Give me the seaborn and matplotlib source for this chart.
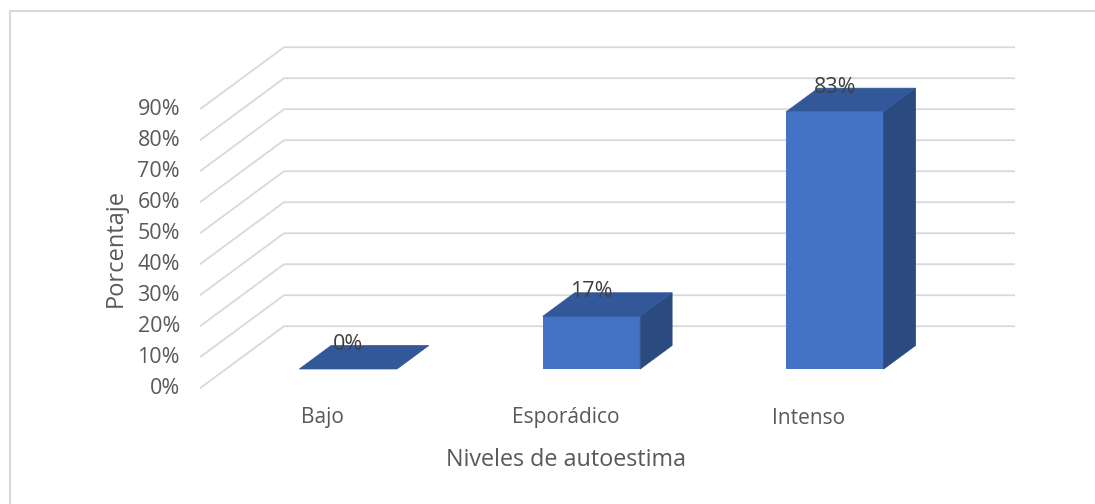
import matplotlib
matplotlib.use("Agg")
import matplotlib.pyplot as plt
from matplotlib.patches import Polygon
from matplotlib.lines import Line2D
import seaborn as sns
import pandas as pd

categories = ["Bajo", "Esporádico", "Intenso"]
values = [0, 17, 83]
value_labels = ["0%", "17%", "83%"]
tick_values = [0, 10, 20, 30, 40, 50, 60, 70, 80, 90]
tick_labels = [f"{t}%" for t in tick_values]
x_title = "Niveles de autoestima"
y_title = "Porcentaje"

sns.set_theme(style="white")
plt.rcParams["font.family"] = ["Open Sans", "DejaVu Sans"]

TXT = "#595959"
GRID = "#D9D9D9"
FRONT = "#4472C4"
TOP = "#325899"
SIDE = "#2B4A80"

W, H = 1095, 504
fig = plt.figure(figsize=(W / 100, H / 100), dpi=100)
ax = fig.add_axes([0, 0, 1, 1])

df = pd.DataFrame({"cat": categories, "val": values})
sns.barplot(data=df, x="cat", y="val", ax=ax, width=0.4, color=FRONT,
            saturation=1, zorder=3, linewidth=0)

# pixel mapping: px = 348 + 243.5*i ; py(top) = 369 - 3.1*v
sx, sy = 243.5, 3.1
ax.set_xlim(-348 / sx, (W - 348) / sx)
ax.set_ylim((369 - H) / sy, 369 / sy)
ax.axis("off")

# oblique depth (full floor depth) in data units
full_dx, full_dy = 84 / sx, 62 / sy
f_front, f_back = 0.31, 0.69
bar_dx = (f_back - f_front) * full_dx
bar_dy = (f_back - f_front) * full_dy

x_front_left = (200 - 348) / sx
x_back_right = (1015 - 348) / sx

for t, lab in zip(tick_values, tick_labels):
    yf = t - f_front * full_dy
    yb = t + f_back * full_dy
    ax.plot([x_front_left, x_front_left + full_dx, x_back_right],
            [yf, yb, yb], color=GRID, lw=1.3, zorder=1, solid_capstyle="butt")
    ax.text(x_front_left - 20 / sx, yf, lab, ha="right", va="center",
            fontsize=15.5, color=TXT)

for p, lab in zip(ax.patches, value_labels):
    x0 = p.get_x()
    w = p.get_width()
    h = p.get_height()
    x1 = x0 + w
    top = Polygon([(x0, h), (x1, h), (x1 + bar_dx, h + bar_dy), (x0 + bar_dx, h + bar_dy)],
                  closed=True, facecolor=TOP, edgecolor=TOP, lw=0.5, zorder=4)
    side = Polygon([(x1, 0), (x1, h), (x1 + bar_dx, h + bar_dy), (x1 + bar_dx, bar_dy)],
                   closed=True, facecolor=SIDE, edgecolor=SIDE, lw=0.5, zorder=4)
    ax.add_patch(side)
    ax.add_patch(top)
    ax.text(x0 + w / 2, h + bar_dy + 0.3, lab, ha="center", va="center",
            fontsize=15.5, color="#404040", zorder=6)

for i, c in enumerate(categories):
    ax.text(i - f_front * full_dx, (369 - 418) / sy, c, ha="center", va="center",
            fontsize=15, color=TXT)

ax.text((566 - 348) / sx, (369 - 460) / sy, x_title, ha="center", va="center",
        fontsize=16.8, color=TXT)
ax.text((116 - 348) / sx, (369 - 248) / sy, y_title, ha="center", va="center",
        rotation=90, fontsize=17, color=TXT)

# chart area border (top and left edges visible)
fig.add_artist(Line2D([10 / W, 10 / W, 1.0], [0.0, 1 - 11 / H, 1 - 11 / H],
                      transform=fig.transFigure, color=GRID, lw=1.5))

fig.savefig("out.png", dpi=100, facecolor="white")
